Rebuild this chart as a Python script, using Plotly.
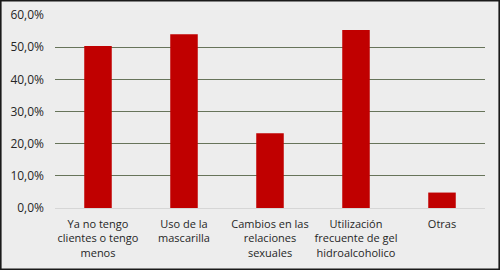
import plotly.graph_objects as go

categories = [
    "Ya no tengo<br>clientes o tengo<br>menos",
    "Uso de la<br>mascarilla",
    "Cambios en las<br>relaciones<br>sexuales",
    "Utilización<br>frecuente de gel<br>hidroalcoholico",
    "Otras",
]
values = [50.4, 54.0, 23.2, 55.3, 4.8]
tick_vals = [0, 10, 20, 30, 40, 50, 60]
tick_text = ["0,0%", "10,0%", "20,0%", "30,0%", "40,0%", "50,0%", "60,0%"]

W, H = 500, 270
ml, mr, mt, mb = 55, 15, 15, 62
pw, ph = W - ml - mr, H - mt - mb

fig = go.Figure()
fig.add_trace(go.Bar(
    x=categories, y=values,
    marker=dict(color="#C00000", line=dict(width=0)),
    width=0.32,
))

fig.update_layout(
    width=W, height=H,
    margin=dict(l=ml, r=mr, t=mt, b=mb, autoexpand=False),
    paper_bgcolor="#EDEDED",
    plot_bgcolor="#EDEDED",
    showlegend=False,
    font=dict(family="Open Sans, Liberation Sans, sans-serif", size=11, color="#262626"),
    xaxis=dict(
        showgrid=False, showline=False, zeroline=False, ticks="",
        tickfont=dict(size=11, color="#262626"),
        range=[-0.5, 4.5], automargin=False,
        ticklabelstandoff=8,
    ),
    yaxis=dict(
        range=[0, 60], tickvals=tick_vals, ticktext=tick_text,
        showgrid=True, gridcolor="#67745A", gridwidth=1.3,
        zeroline=True, zerolinecolor="#D6D6D6", zerolinewidth=1.3,
        showline=False, ticks="", ticklen=0, automargin=False,
        tickfont=dict(size=12, color="#262626"),
        ticklabelstandoff=10,
    ),
    shapes=[dict(
        type="rect", xref="paper", yref="paper",
        x0=(-ml + 0.8) / pw, x1=1 + (mr - 0.8) / pw,
        y0=(-mb + 0.8) / ph, y1=1 + (mt - 0.8) / ph,
        line=dict(color="#1A1A1A", width=1.6), layer="above",
    )],
)

fig.write_html("out.html")
